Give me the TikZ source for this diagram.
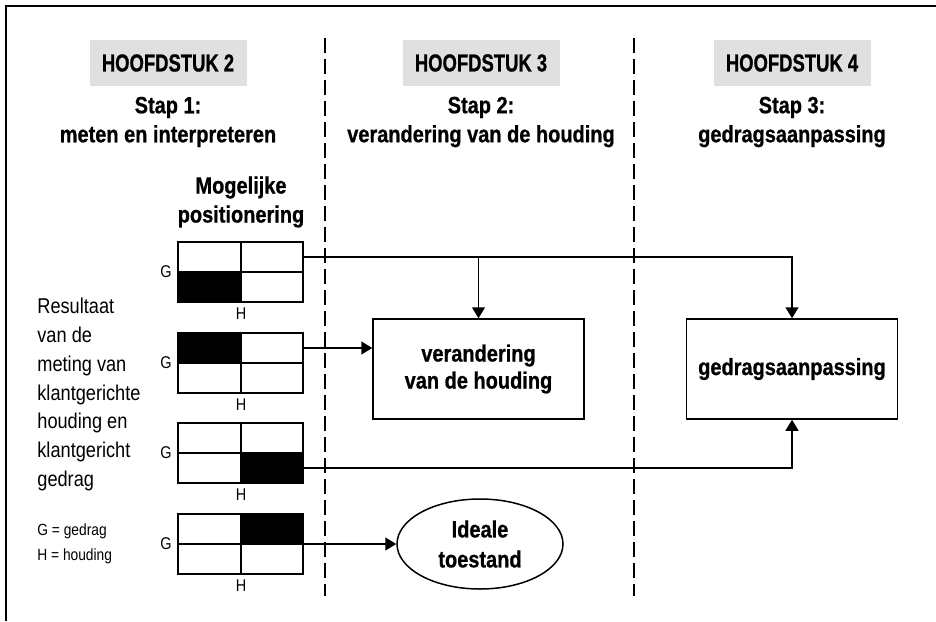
\documentclass[tikz,border=0pt]{standalone}
\usepackage{fontspec}
\setmainfont{Liberation Sans}[FakeStretch=0.85,BoldFeatures={FakeBold=0.8}]
\newfontfamily\headfont{Liberation Sans}[FakeStretch=0.75,BoldFeatures={FakeBold=0.8}]
\usepackage{tikz}
\usetikzlibrary{arrows.meta}
\usetikzlibrary{shapes.geometric}
\usepackage{xcolor}
\definecolor{kopgrijs}{RGB}{224,224,224}

\begin{document}
\begin{tikzpicture}[x=0.5pt,y=-0.5pt,
  kop/.style={fill=kopgrijs,minimum width=78.5pt,minimum height=23pt,inner sep=0pt,font=\headfont\bfseries\fontsize{12.3}{14}\selectfont},
  stap/.style={align=center,font=\bfseries\fontsize{11.75}{14.5}\selectfont},
  cel/.style={draw,line width=1pt,minimum width=31.25pt,minimum height=15pt,inner sep=0pt,outer sep=0pt},
  vak/.style={draw,line width=0.75pt,minimum width=105.5pt,minimum height=50pt,align=center,font=\bfseries\fontsize{11.75}{13.5}\selectfont},
  pijl/.style={line width=0.75pt,-{Triangle[length=5.5pt,width=6.5pt]}},
  scheiding/.style={line width=0.75pt,dash pattern=on 7.5pt off 3pt},
  klein/.style={inner sep=0pt,font=\fontsize{8.5}{10}\selectfont}]

\useasboundingbox (0,0) rectangle (936,621);
\draw [line width=1pt] (6,621) -- (6,6) -- (936,6);

\draw [scheiding] (325,38) -- (325,596);
\draw [scheiding] (634,38) -- (634,596);

\node [kop] (h2) at (168,63) {HOOFDSTUK 2};
\node [kop] (h3) at (481,63) {HOOFDSTUK 3};
\node [kop] (h4) at (792,63) {HOOFDSTUK 4};

\node [stap] (s1) at (168,122) {Stap 1:\\meten en interpreteren};
\node [stap] (s2) at (481,122) {Stap 2:\\verandering van de houding};
\node [stap] (s3) at (792,122) {Stap 3:\\gedragsaanpassing};

\node [stap] (mp) at (241,202) {Mogelijke\\positionering};

\foreach \n/\t/\z in {1/242/c,2/333/a,3/423/d,4/514/b} {
  \node [cel] (g\n-a) at (209.25,\t+15) {};
  \node [cel] (g\n-b) at (271.75,\t+15) {};
  \node [cel] (g\n-c) at (209.25,\t+45) {};
  \node [cel] (g\n-d) at (271.75,\t+45) {};
  \fill [black] (g\n-\z.south west) rectangle (g\n-\z.north east);
  \node [klein] (G\n) at (166,\t+30) {G};
  \node [klein] (H\n) at (241,\t+72) {H};
}

\node [align=left,anchor=north west,inner sep=0pt,font=\fontsize{10.7}{14.35}\selectfont] (res) at (37,298)
  {Resultaat\\van de\\meting van\\klantgerichte\\houding en\\klantgericht\\gedrag};
\node [align=left,anchor=north west,inner sep=0pt,font=\fontsize{8.1}{12.5}\selectfont] (leg) at (37,523)
  {G = gedrag\\H = houding};

\node [vak] (v1) at (478.5,369) {verandering\\van de houding};
\node [vak] (v2) at (792,369) {gedragsaanpassing};
\node [ellipse,draw,line width=0.75pt,minimum width=83pt,minimum height=45pt,inner sep=0pt,align=center,
  font=\bfseries\fontsize{11.75}{15}\selectfont] (ideaal) at (480,544) {Ideale\\toestand};

\draw [pijl] (g1-b.east) -| (v2.north);
\draw [pijl] (v1.north |- g1-b.east) -- (v1.north);
\draw [pijl] (g2-b.east) -- (g2-b.east -| v1.west);
\draw [pijl] (g3-d.east) -| (v2.south);
\draw [pijl] (g4-b.south east) -- (ideaal.west);
\end{tikzpicture}
\end{document}
